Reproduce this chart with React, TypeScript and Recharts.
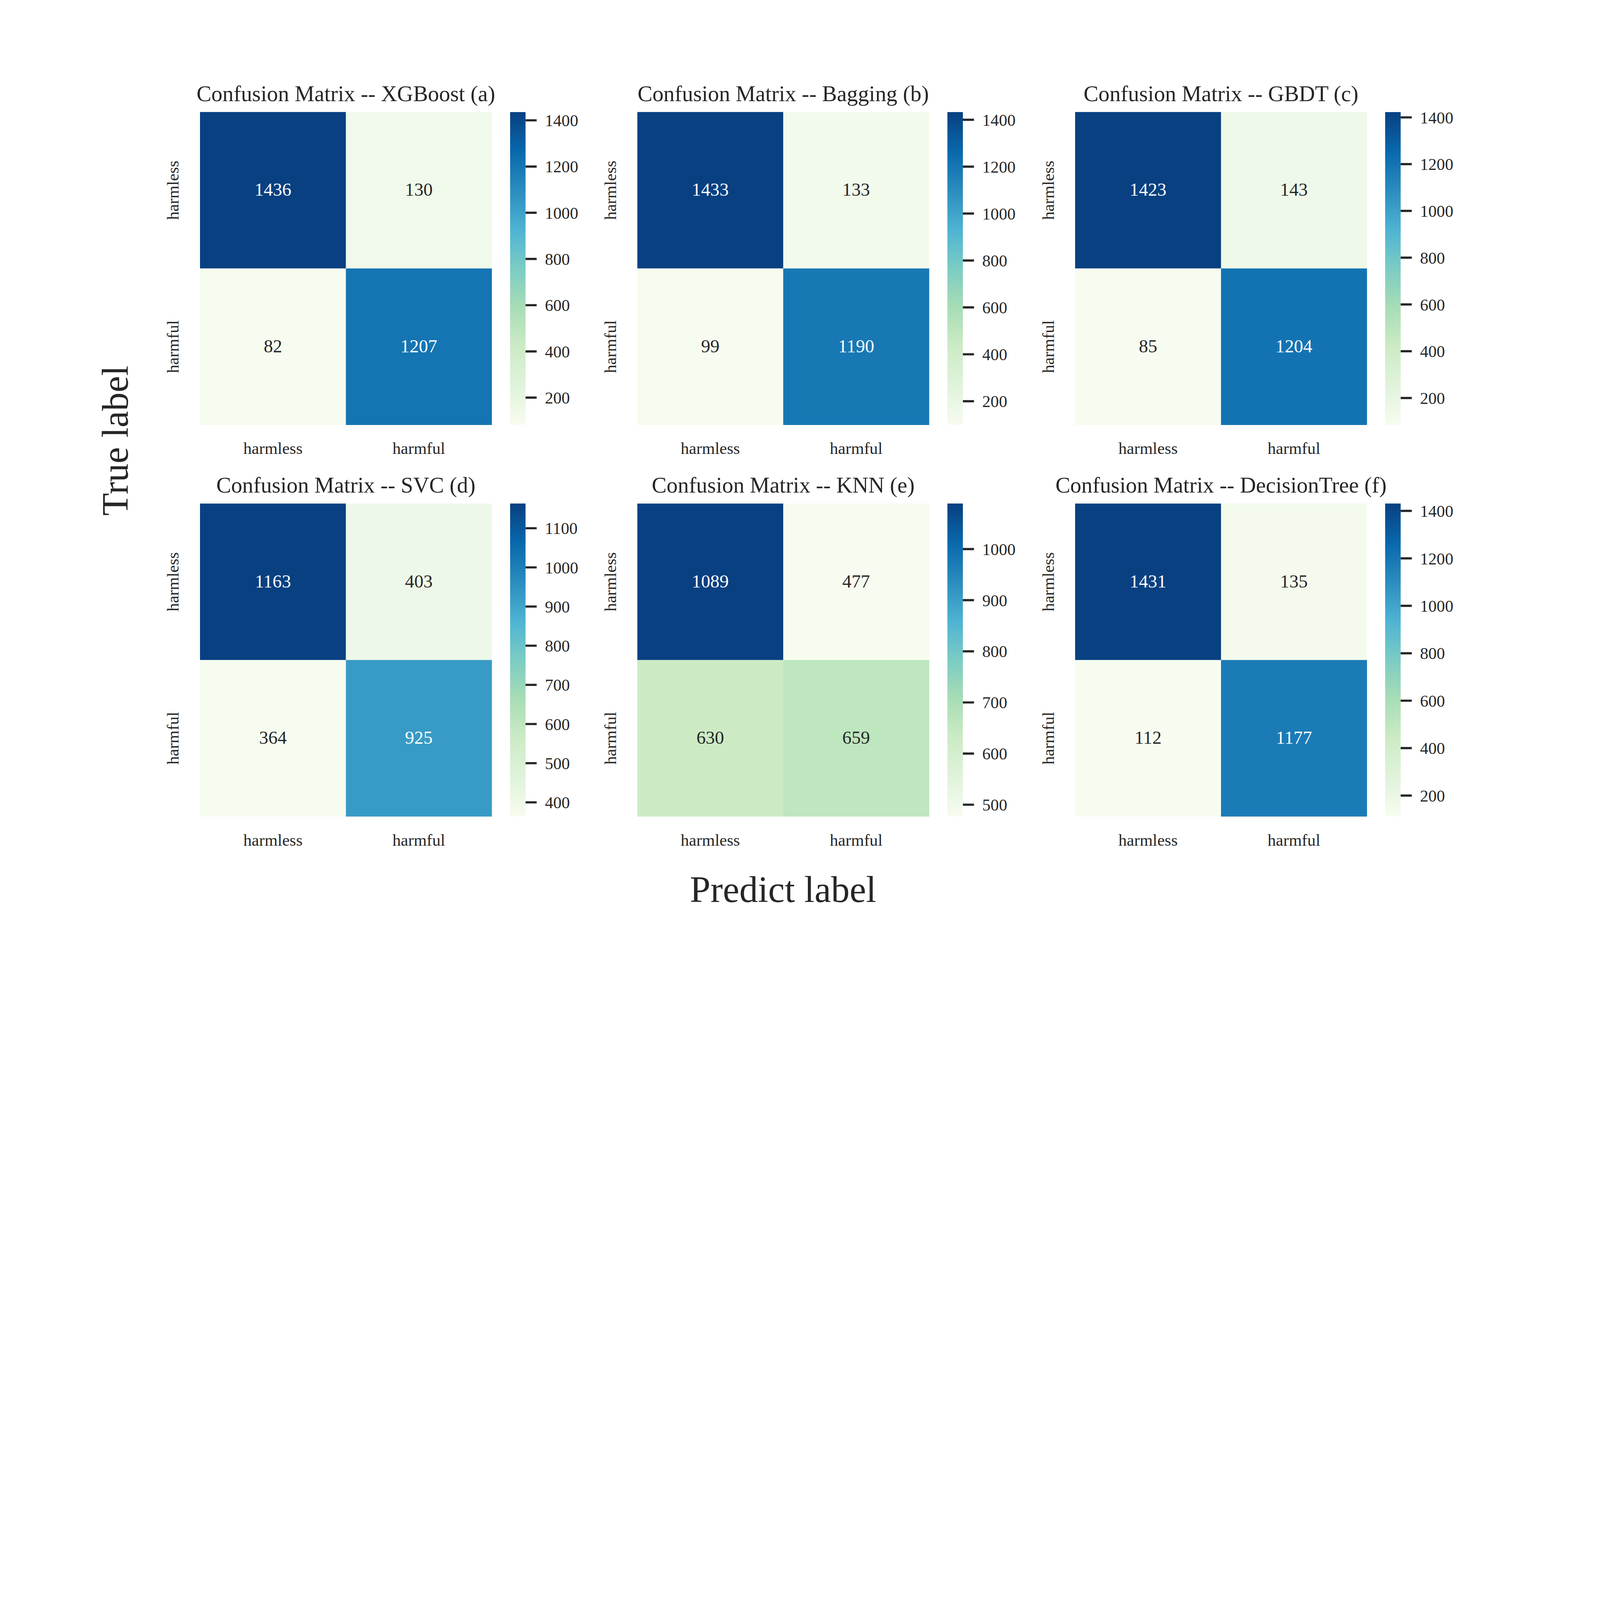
import React from "react"
import {
  ScatterChart,
  Scatter,
  BarChart,
  Bar,
  XAxis,
  YAxis
} from "recharts"

// --- data ---
const classLabels = ["harmless", "harmful"]
const modelNames = ["XGBoost", "Bagging", "GBDT", "SVC", "KNN", "DecisionTree"]
const panelTags = ["a", "b", "c", "d", "e", "f"]

// rows = true label, cols = predicted label
const xgboostMatrix = [[1436, 130], [82, 1207]]
const baggingMatrix = [[1433, 133], [99, 1190]]
const gbdtMatrix = [[1423, 143], [85, 1204]]
const svcMatrix = [[1163, 403], [364, 925]]
const knnMatrix = [[1089, 477], [630, 659]]
const decisionTreeMatrix = [[1431, 135], [112, 1177]]

const ticksWide = [200, 400, 600, 800, 1000, 1200, 1400]
const ticksSvc = [400, 500, 600, 700, 800, 900, 1000, 1100]
const ticksKnn = [500, 600, 700, 800, 900, 1000]

const matrices = [xgboostMatrix, baggingMatrix, gbdtMatrix, svcMatrix, knnMatrix, decisionTreeMatrix]
const colorbarTicks = [ticksWide, ticksWide, ticksWide, ticksSvc, ticksKnn, ticksWide]

// --- layout / style ---
const FIG_W = 7200
const FIG_H = 4200
const FONT = '"Liberation Serif", "Times New Roman", serif'
const INK = "#262626"
const COL_X = [900, 2868, 4838]
const ROW_Y = [504, 2266]
const HEAT_W = 1313
const HEAT_H = 1408
const PAD = 200
const CB_OFFSET = 1395
const CB_W = 70

// matplotlib GnBu, light -> dark
const GNBU = [
  [247, 252, 240], [224, 243, 219], [204, 235, 197], [168, 221, 181], [123, 204, 196],
  [78, 179, 211], [43, 140, 190], [8, 104, 172], [8, 64, 129]
]

function gnbu(t: number): number[] {
  const c = Math.max(0, Math.min(1, t)) * (GNBU.length - 1)
  const i = Math.min(Math.floor(c), GNBU.length - 2)
  const f = c - i
  return GNBU[i].map((v, k) => v + (GNBU[i + 1][k] - v) * f)
}

function toHex(rgb: number[]) {
  return "#" + rgb.map(v => Math.round(v).toString(16).padStart(2, "0")).join("")
}

// seaborn picks annotation colour from luminance of the cell
function textColorFor(rgb: number[]) {
  const lin = rgb.map(v => {
    const c = v / 255
    return c <= 0.03928 ? c / 12.92 : Math.pow((c + 0.055) / 1.055, 2.4)
  })
  const lum = 0.2126 * lin[0] + 0.7152 * lin[1] + 0.0722 * lin[2]
  return lum > 0.408 ? INK : "#ffffff"
}

function Panel({ index }: { index: number }) {
  const m = matrices[index]
  const flat = m.flat()
  const vmin = Math.min(...flat)
  const vmax = Math.max(...flat)
  const cells = classLabels.flatMap((actual, r) =>
    classLabels.map((pred, c) => ({ actual, pred, count: m[r][c] }))
  )
  const left = COL_X[index % 3]
  const top = ROW_Y[Math.floor(index / 3)]
  const cellW = HEAT_W / 2
  const cellH = HEAT_H / 2
  const gradId = `gnbu-${panelTags[index]}`
  const topDown = [...GNBU].reverse()

  const renderCell = (props: any) => {
    const { cx, cy, payload } = props
    const rgb = gnbu((payload.count - vmin) / (vmax - vmin))
    return (
      <g>
        <rect x={cx - cellW / 2} y={cy - cellH / 2} width={cellW + 0.5} height={cellH + 0.5} fill={toHex(rgb)} />
        <text
          x={cx}
          y={cy}
          dy="0.3em"
          textAnchor="middle"
          fontFamily={FONT}
          fontSize={83}
          fill={textColorFor(rgb)}
        >
          {payload.count}
        </text>
      </g>
    )
  }

  const renderXTick = (props: any) => (
    <text x={props.x} y={PAD + HEAT_H + 131} textAnchor="middle" fontFamily={FONT} fontSize={75} fill={INK}>
      {props.payload.value}
    </text>
  )

  const renderYTick = (props: any) => (
    <text
      x={PAD - 96}
      y={props.y}
      textAnchor="middle"
      transform={`rotate(-90, ${PAD - 96}, ${props.y})`}
      fontFamily={FONT}
      fontSize={75}
      fill={INK}
    >
      {props.payload.value}
    </text>
  )

  return (
    <>
      <div style={{ position: "absolute", left: left - PAD, top: top - PAD }}>
        <ScatterChart
          width={PAD + HEAT_W + PAD}
          height={PAD + HEAT_H + PAD}
          margin={{ top: PAD, right: PAD, bottom: 0, left: 0 }}
        >
          <XAxis
            dataKey="pred"
            type="category"
            allowDuplicatedCategory={false}
            axisLine={false}
            tickLine={false}
            height={PAD}
            tick={renderXTick}
          />
          <YAxis
            dataKey="actual"
            type="category"
            allowDuplicatedCategory={false}
            reversed
            axisLine={false}
            tickLine={false}
            width={PAD}
            tick={renderYTick}
          />
          <Scatter data={cells} shape={renderCell} isAnimationActive={false} />
          <text
            x={PAD + HEAT_W / 2}
            y={PAD - 49}
            textAnchor="middle"
            fontFamily={FONT}
            fontSize={100}
            fill={INK}
          >
            {`Confusion Matrix -- ${modelNames[index]} (${panelTags[index]})`}
          </text>
        </ScatterChart>
      </div>
      <div style={{ position: "absolute", left: left + CB_OFFSET, top: top - 50 }}>
        <BarChart
          width={CB_W + 300}
          height={HEAT_H + 100}
          data={[{ name: "cb", range: [vmin, vmax] }]}
          margin={{ top: 50, right: 0, bottom: 50, left: 0 }}
          barCategoryGap={0}
          barGap={0}
        >
          <defs>
            <linearGradient id={gradId} x1="0" y1="0" x2="0" y2="1">
              {topDown.map((c, i) => (
                <stop key={i} offset={`${(i * 100) / (topDown.length - 1)}%`} stopColor={toHex(c)} />
              ))}
            </linearGradient>
          </defs>
          <XAxis dataKey="name" type="category" hide />
          <YAxis
            orientation="right"
            type="number"
            domain={[vmin, vmax]}
            allowDataOverflow
            ticks={colorbarTicks[index]}
            interval={0}
            width={300}
            axisLine={false}
            tickSize={50}
            tickMargin={37}
            tickLine={{ stroke: INK, strokeWidth: 10 }}
            tick={{ fontFamily: FONT, fontSize: 75, fill: INK }}
          />
          <Bar dataKey="range" fill={`url(#${gradId})`} isAnimationActive={false} />
        </BarChart>
      </div>
    </>
  )
}

export default function App() {
  // the browser may hand us a smaller viewport than the figure; shrink the whole figure to fit
  const vw = typeof window !== "undefined" ? window.innerWidth : FIG_W
  const vh = typeof window !== "undefined" ? window.innerHeight : FIG_H
  const s = Math.min(1, vw / FIG_W, vh / FIG_H)

  return (
    <div
      style={{
        position: "absolute",
        left: 0,
        top: 0,
        width: FIG_W * s,
        height: FIG_H * s,
        overflow: "hidden",
        background: "#ffffff"
      }}
    >
      <div
        style={{
          position: "absolute",
          left: 0,
          top: 0,
          width: FIG_W,
          height: FIG_H,
          background: "#ffffff",
          transform: `scale(${s})`,
          transformOrigin: "0 0"
        }}
      >
        {matrices.map((_, i) => (
          <Panel key={i} index={i} />
        ))}
        <svg width={FIG_W} height={FIG_H} style={{ position: "absolute", left: 0, top: 0, pointerEvents: "none" }}>
          <text
            x={575}
            y={1983}
            textAnchor="middle"
            transform="rotate(-90, 575, 1983)"
            fontFamily={FONT}
            fontSize={167}
            fill={INK}
          >
            True label
          </text>
          <text x={3524} y={4058} textAnchor="middle" fontFamily={FONT} fontSize={167} fill={INK}>
            Predict label
          </text>
        </svg>
      </div>
    </div>
  )
}
